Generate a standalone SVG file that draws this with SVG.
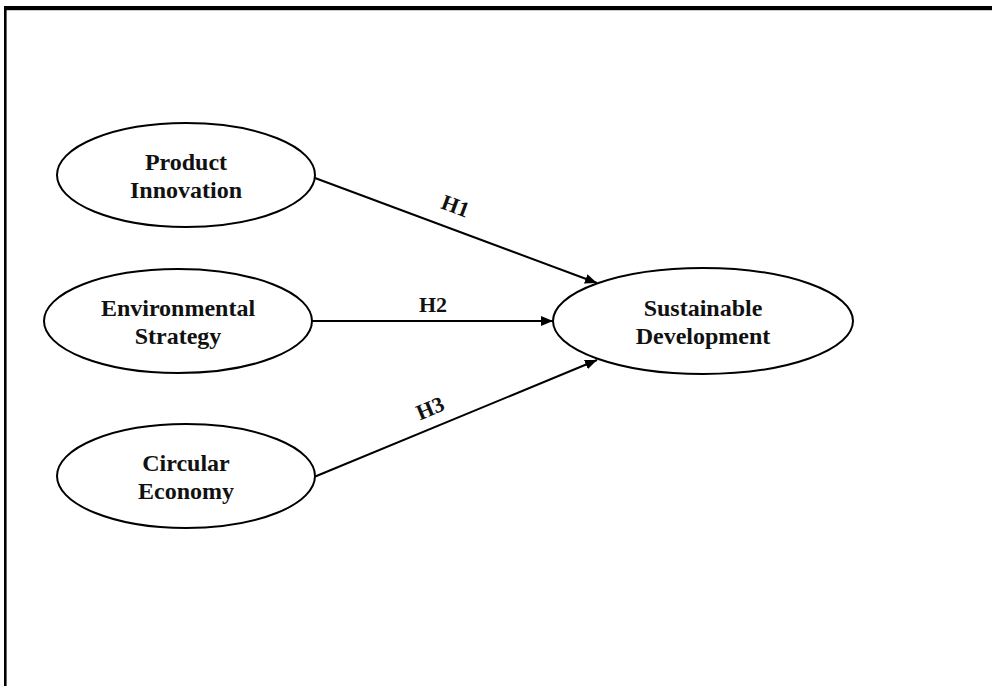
<svg xmlns="http://www.w3.org/2000/svg" width="992" height="686" viewBox="0 0 992 686">
  <style>
    .node ellipse { fill: #ffffff; stroke: #000000; stroke-width: 2; }
    .node text { font-family: "Liberation Serif", "Times New Roman", serif; font-weight: bold; font-size: 24px; fill: #111111; text-anchor: middle; }
    .edge { stroke: #000000; stroke-width: 2; fill: none; marker-end: url(#arrow); }
    .lbl { font-family: "Liberation Serif", "Times New Roman", serif; font-weight: bold; font-size: 22px; fill: #111111; text-anchor: middle; }
  </style>
  <defs>
    <marker id="arrow" viewBox="0 0 12 10" refX="12" refY="5" markerWidth="12" markerHeight="10" markerUnits="userSpaceOnUse" orient="auto">
      <path d="M0,0 L12,5 L0,10 Z" fill="#000000"/>
    </marker>
  </defs>
  <rect x="0" y="0" width="992" height="686" fill="#ffffff"/>
  <line x1="4" y1="8" x2="992" y2="8" stroke="#000000" stroke-width="4"/>
  <line x1="4" y1="10.5" x2="992" y2="10.5" stroke="#cccccc" stroke-width="1"/>
  <line x1="5.3" y1="6" x2="5.3" y2="686" stroke="#000000" stroke-width="2.6"/>

  <g id="connectors">
    <line class="edge" x1="315" y1="178" x2="597" y2="283"/>
    <line class="edge" x1="312" y1="321" x2="553" y2="321"/>
    <line class="edge" x1="314" y1="477" x2="597" y2="360"/>
    <text class="lbl" transform="translate(453,213) rotate(20.4)">H1</text>
    <text class="lbl" x="433" y="312">H2</text>
    <text class="lbl" transform="translate(433,415) rotate(-22.5)">H3</text>
  </g>

  <g id="product-innovation" class="node">
    <ellipse cx="186" cy="175" rx="129" ry="52"/>
    <text x="186" y="170">Product</text>
    <text x="186" y="198">Innovation</text>
  </g>
  <g id="environmental-strategy" class="node">
    <ellipse cx="178" cy="321" rx="134" ry="52"/>
    <text x="178" y="316">Environmental</text>
    <text x="178" y="344">Strategy</text>
  </g>
  <g id="circular-economy" class="node">
    <ellipse cx="186" cy="476" rx="129" ry="52"/>
    <text x="186" y="471">Circular</text>
    <text x="186" y="499">Economy</text>
  </g>
  <g id="sustainable-development" class="node">
    <ellipse cx="703" cy="321" rx="150" ry="53"/>
    <text x="703" y="316">Sustainable</text>
    <text x="703" y="344">Development</text>
  </g>
</svg>
